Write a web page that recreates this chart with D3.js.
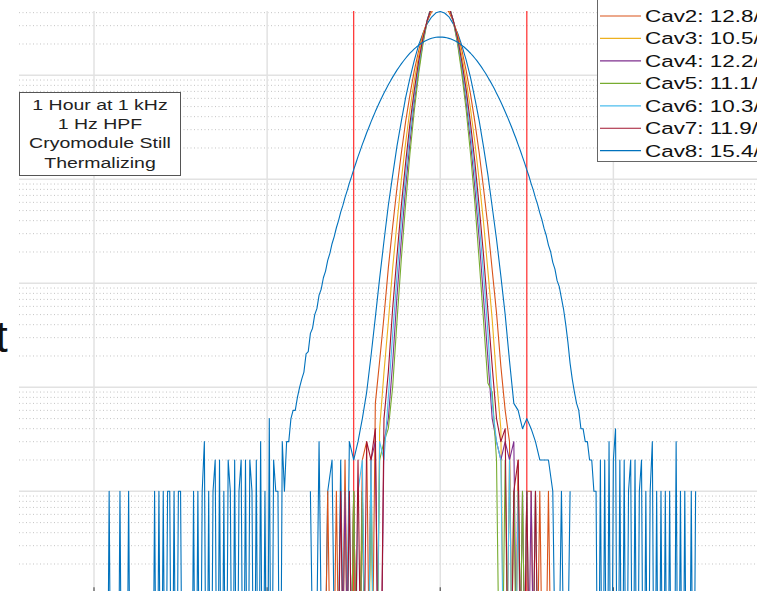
<!DOCTYPE html>
<html>
<head>
<meta charset="utf-8">
<script src="https://cdn.jsdelivr.net/npm/d3@7"></script>
<style>
  html, body { margin: 0; padding: 0; background: #fff; }
  svg { display: block; }
</style>
</head>
<body>
<svg id="chart" width="773" height="591"></svg>
<script>
// ---- data -------------------------------------------------------------
const seriesNames = ["Cav1", "Cav2", "Cav3", "Cav4", "Cav5", "Cav6", "Cav7", "Cav8"];
const legendLabels = ["Cav1", "Cav2: 12.8/", "Cav3: 10.5/", "Cav4: 12.2/", "Cav5: 11.1/",
                      "Cav6: 10.3/", "Cav7: 11.9/", "Cav8: 15.4/"];
const seriesColors = ["#0072BD", "#D95319", "#EDB120", "#7E2F8E", "#77AC30", "#4DBEEE", "#A2142F", "#0072BD"];

// Cav1..Cav7: histogram bins every 0.5 Hz from -15 Hz to +15 Hz
const narrowStartHz = -15;
const narrowStepHz = 0.5;
const cav1Counts = [1,0,3,0,1,2,0,2,0,3, 2,3,5,9,20,47,112,255,560,1090, 2080,3600,6100,9400,13900,19500,25300,31400,36300,39900,
  41000,
  39700,36500,31200,25500,19300,14000,9500,6000,3650,2050, 1110,545,265,118,50,18,7,6,4,5, 4,3,2,2,2,1,0,1,0,1];
const cav2Counts = [0,0,0,0,1,0,1,0,2,0, 1,0,2,3,0,7,18,48,140,350, 830,1770,3580,6500,11100,17200,25000,33000,40700,45700,
  47700,
  45900,40500,33200,24800,17400,11000,6550,3540,1790,820, 355,135,52,16,6,3,0,2,0,1, 1,0,1,0,1,0,0,0,0,0];
const cav3Counts = [0,0,0,0,0,0,0,0,1,0, 1,0,1,0,2,0,4,14,42,140, 380,980,2240,4700,8950,15300,24000,33700,43300,50000,
  52600,
  50200,43100,33900,23800,15400,8900,4720,2260,970,385, 133,45,12,4,0,2,0,1,0,1, 0,1,0,0,0,0,0,0,0,0];
const cav4Counts = [0,0,0,0,0,0,0,0,1,0, 1,0,1,0,2,3,0,3,5,17, 75,260,830,2250,5450,11400,20800,33700,46900,57600,
  61500,
  57400,47100,33500,21000,11350,5430,2270,820,265,72, 19,5,3,2,3,2,3,0,1,0, 1,0,0,0,0,0,0,0,0,0];
const cav5Counts = [0,0,0,0,0,0,0,0,0,0, 1,0,1,0,1,0,2,3,4,10, 43,170,580,1770,4560,10300,19800,33300,47800,59800,
  64300,
  59600,48000,33100,20000,10200,4580,1750,590,165,44, 11,9,2,0,2,0,1,0,1,0, 0,0,0,0,0,0,0,0,0,0];
const cav6Counts = [0,0,0,0,0,0,0,0,0,1, 0,1,2,0,2,0,3,2,8,32, 118,395,1110,2840,6330,12550,21800,33900,45900,55600,
  59000,
  55400,46100,33700,22000,12500,6350,2820,1130,385,122, 34,7,3,2,0,2,0,1,0,1, 0,1,0,0,0,0,0,0,0,0];
const cav7Counts = [0,0,0,0,0,0,0,1,0,1, 0,2,0,3,2,4,0,5,14,57, 183,555,1450,3450,7200,13600,22600,34000,45000,53700,
  56700,
  53500,45200,33800,22800,13500,7230,3430,1470,545,187, 55,16,5,3,4,0,1,2,0,1, 0,1,0,0,0,0,0,0,0,0];

// Cav8: histogram bins every 0.25 Hz from -38.5 Hz to +29.5 Hz
const wideStartHz = -38.5;
const wideStepHz = 0.25;
const cav8Counts = [
  0,1,0,0,0,0,1,0,0,0,1,
  0,0,0,0,0,0,0,0,0,0,0,
  1,0,1,0,1,0,1,1,0,1,0,1,1,
  0,0,0,0,0,
  1,0,1,0,
  1,3,0,1,0,1,2,0,2,0,1,0,2,1,0,2,0,1,2,0,2,0,2,1,0,2,0,3,0,
  1,0,5,0,2,1,1,0,3,1,3,3,
  5,6,6,8,10,12,14,21,22,33,
  37,50,57,77,88,113,131,166,194,240,
  281,342,400,483,561,671,778,918,1060,1240,
  1425,1650,1885,2165,2455,2800,3150,3565,3990,4475,
  4975,5535,6115,6745,7400,8105,8825,9595,10375,11205,
  12025,12875,13725,14585,15435,16295,17105,17915,18685,19415,
  20095,20755,21325,21835,22275,22655,22955,23175,23275,
  23300,
  23285,23165,22965,22645,22285,21825,21335,20745,20105,19405,
  18695,17905,17115,16285,15445,14575,13735,12865,12035,11195,
  10385,9585,8835,8095,7410,6735,6125,5525,4985,4465,
  4000,3555,3165,2785,2465,2155,1892,1640,1432,1230,
  1070,909,786,662,570,475,408,335,288,233,
  201,159,137,106,93,72,56,40,27,17,
  12,9,7,6,4,4,3,3,2,2,
  1,1,
  0,2,0,2,0,3,0,2,4,0,
  2,0,2,0,1,2,0,2,0,1,
  2,0,1,0,1,3,0,1,0,1,
  0,1,0,1,0,0,3,0,1,0,
  1,0,0,1,0,1
];

const xTicks = [-40, -20, 0, 20, 40];
const limitLinesHz = [-10, 10];
const yMin = 0.1, yMax = 41500;
const annotationLines = ["1 Hour at 1 kHz", "1 Hz HPF", "Cryomodule Still", "Thermalizing"];
const sideText = "t";

// ---- layout ------------------------------------------------------------
const svg = d3.select("#chart");
const W = 773, H = 591;
const plot = { left: 19, right: 757, top: 11, bottom: 595.3 };

const x = d3.scaleLinear().domain([-40, 40]).range([94, 786.5]);
const y = d3.scaleLog().domain([yMin, yMax]).range([plot.bottom, plot.top]);
const floorCount = 1e-3; // empty bins fall off the bottom of the log axis

svg.append("rect").attr("width", W).attr("height", H).attr("fill", "#fff");

const defs = svg.append("defs");
defs.append("clipPath").attr("id", "plotClip")
  .append("rect").attr("x", plot.left).attr("y", plot.top)
  .attr("width", plot.right - plot.left).attr("height", plot.bottom - plot.top + 10);
defs.append("clipPath").attr("id", "figClip")
  .append("rect").attr("x", 0).attr("y", 0).attr("width", plot.right).attr("height", H);

const fig = svg.append("g").attr("clip-path", "url(#figClip)");
const area = fig.append("g").attr("clip-path", "url(#plotClip)");

// ---- grid ---------------------------------------------------------------
const minorVals = [];
for (let e = -1; e <= 4; e++) {
  for (let m = 2; m <= 9; m++) {
    const v = m * Math.pow(10, e);
    if (v < yMax) minorVals.push(v);
  }
}
area.append("g").selectAll("line").data(minorVals).join("line")
  .attr("x1", plot.left).attr("x2", plot.right)
  .attr("y1", d => y(d)).attr("y2", d => y(d))
  .attr("stroke", "#c4c4c4").attr("stroke-width", 1)
  .attr("stroke-dasharray", "1,2.5");

const majorVals = [1, 10, 100, 1000, 10000];
area.append("g").selectAll("line").data(majorVals).join("line")
  .attr("x1", plot.left).attr("x2", plot.right)
  .attr("y1", d => y(d)).attr("y2", d => y(d))
  .attr("stroke", "#e2e2e2").attr("stroke-width", 1.5);

area.append("g").selectAll("line").data(xTicks).join("line")
  .attr("x1", d => x(d)).attr("x2", d => x(d))
  .attr("y1", plot.top).attr("y2", plot.bottom)
  .attr("stroke", "#e2e2e2").attr("stroke-width", 1.5);

// x-axis tick marks along the bottom edge
area.append("g").selectAll("line").data(xTicks).join("line")
  .attr("x1", d => x(d)).attr("x2", d => x(d))
  .attr("y1", plot.bottom).attr("y2", plot.bottom - 8)
  .attr("stroke", "#555").attr("stroke-width", 1.2);

// ---- limit lines --------------------------------------------------------
area.append("g").selectAll("line").data(limitLinesHz).join("line")
  .attr("x1", d => x(d)).attr("x2", d => x(d))
  .attr("y1", plot.top).attr("y2", plot.bottom)
  .attr("stroke", "#ff2a2a").attr("stroke-width", 1.2);

// ---- histogram traces ---------------------------------------------------
const narrow = [cav1Counts, cav2Counts, cav3Counts, cav4Counts, cav5Counts, cav6Counts, cav7Counts];
const series = narrow.map((counts, s) => ({
  name: seriesNames[s], color: seriesColors[s],
  pts: counts.map((c, i) => [narrowStartHz + i * narrowStepHz, c])
}));
series.push({
  name: seriesNames[7], color: seriesColors[7],
  pts: cav8Counts.map((c, i) => [wideStartHz + i * wideStepHz, c])
});

const line = d3.line()
  .x(d => x(d[0]))
  .y(d => y(Math.max(d[1], floorCount)));

area.append("g").selectAll("path").data(series).join("path")
  .attr("d", d => line(d.pts))
  .attr("fill", "none")
  .attr("stroke", d => d.color)
  .attr("stroke-width", 1.1)
  .attr("stroke-linejoin", "round");

// ---- annotation box -----------------------------------------------------
const ann = fig.append("g");
ann.append("rect").attr("x", 19.5).attr("y", 92.5).attr("width", 161).attr("height", 83)
  .attr("fill", "#fff").attr("stroke", "#555").attr("stroke-width", 1);
ann.selectAll("text").data(annotationLines).join("text")
  .attr("transform", (d, i) => `translate(100,${109.5 + i * 19.4}) scale(1.3,1)`)
  .attr("text-anchor", "middle")
  .attr("font-family", "'Liberation Sans', Arial, sans-serif")
  .attr("font-size", 15)
  .attr("fill", "#222")
  .text(d => d);

// ---- legend -------------------------------------------------------------
const leg = fig.append("g");
leg.append("rect").attr("x", 597.5).attr("y", -40).attr("width", 200).attr("height", 201.5)
  .attr("fill", "#fff").attr("stroke", "#666").attr("stroke-width", 1);
const entry = leg.selectAll("g.entry").data(series).join("g").attr("class", "entry")
  .attr("transform", (d, i) => `translate(0,${16 + (i - 1) * 22.45})`);
entry.append("line").attr("x1", 600).attr("x2", 641).attr("y1", 0).attr("y2", 0)
  .attr("stroke", d => d.color).attr("stroke-width", 1.2);
entry.append("text")
  .attr("transform", "translate(645,6) scale(1.32,1)")
  .attr("font-family", "'Liberation Sans', Arial, sans-serif")
  .attr("font-size", 17)
  .attr("fill", "#111")
  .text((d, i) => legendLabels[i]);

// ---- side label ---------------------------------------------------------
svg.append("text").attr("x", -4.5).attr("y", 351.5)
  .attr("font-family", "'Liberation Sans', Arial, sans-serif")
  .attr("font-size", 44).attr("fill", "#111")
  .text(sideText);
</script>
</body>
</html>
